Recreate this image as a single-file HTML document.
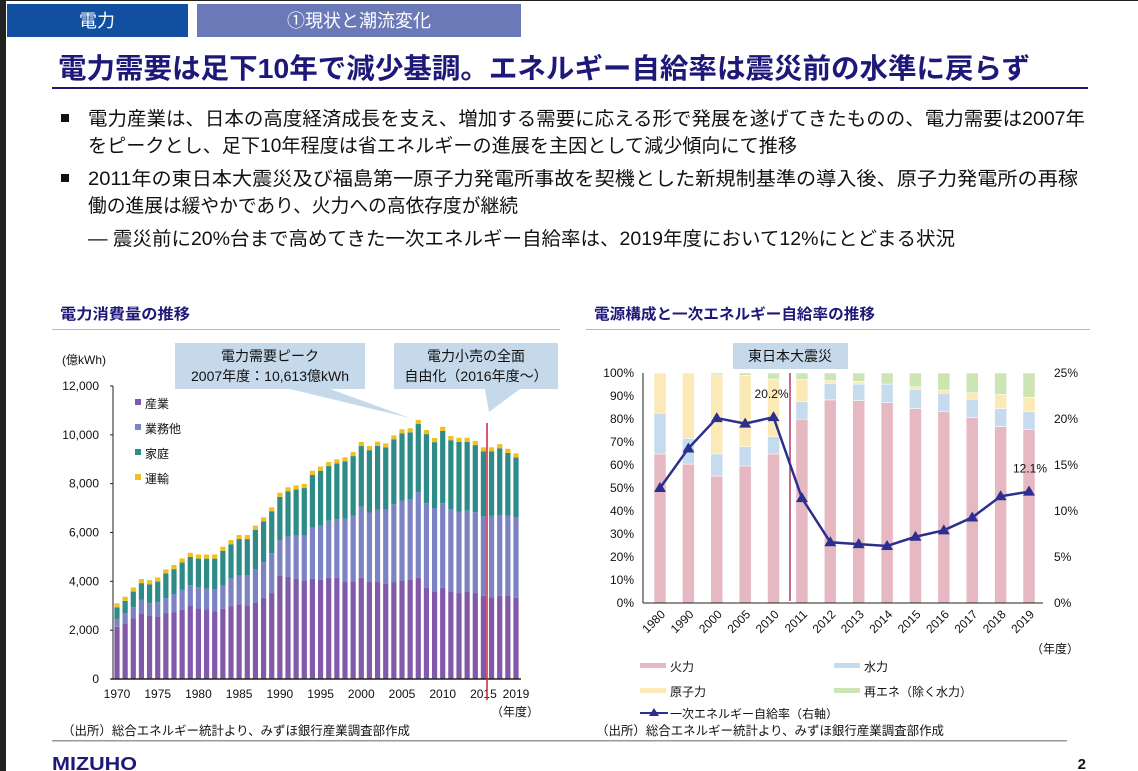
<!DOCTYPE html>
<html><head><meta charset="utf-8">
<style>
html,body{margin:0;padding:0;background:#fff;}
svg{display:block;font-family:"Liberation Sans","Noto Sans CJK JP",sans-serif;}
</style></head>
<body>
<svg id="s" width="1138" height="771" viewBox="0 0 1138 771" xmlns="http://www.w3.org/2000/svg">
<rect x="0" y="0" width="1138" height="771" fill="#fff"/>
<rect x="0" y="0" width="6" height="771" fill="#222"/>
<rect x="0" y="0" width="1138" height="1" fill="#222"/>
<g>
<rect x="7" y="4" width="181" height="33" fill="#1150a0"/>
<text x="97" y="27" text-anchor="middle" fill="#fff" font-size="18">電力</text>
<rect x="197" y="4" width="324" height="33" fill="#6b79b8"/>
<text x="359" y="27" text-anchor="middle" fill="#fff" font-size="18">①現状と潮流変化</text>
</g>
<text x="58" y="78" fill="#1e1878" font-size="28" font-weight="bold" textLength="972" lengthAdjust="spacingAndGlyphs">電力需要は足下10年で減少基調。エネルギー自給率は震災前の水準に戻らず</text>
<rect x="52" y="87" width="1036" height="2" fill="#1e1878"/>
<g font-size="19" fill="#111">
<rect x="61" y="114" width="8" height="8" fill="#111"/>
<text x="88" y="125" textLength="997" lengthAdjust="spacingAndGlyphs">電力産業は、日本の高度経済成長を支え、増加する需要に応える形で発展を遂げてきたものの、電力需要は2007年</text>
<text x="88" y="152" textLength="709" lengthAdjust="spacingAndGlyphs">をピークとし、足下10年程度は省エネルギーの進展を主因として減少傾向にて推移</text>
<rect x="61" y="174" width="8" height="8" fill="#111"/>
<text x="88" y="185" textLength="990" lengthAdjust="spacingAndGlyphs">2011年の東日本大震災及び福島第一原子力発電所事故を契機とした新規制基準の導入後、原子力発電所の再稼</text>
<text x="88" y="212" textLength="430" lengthAdjust="spacingAndGlyphs">働の進展は緩やかであり、火力への高依存度が継続</text>
<text x="88" y="245" textLength="867" lengthAdjust="spacingAndGlyphs">―  震災前に20%台まで高めてきた一次エネルギー自給率は、2019年度において12%にとどまる状況</text>
</g>
<text x="60" y="319" fill="#1e1878" font-size="15" font-weight="bold" textLength="130" lengthAdjust="spacingAndGlyphs">電力消費量の推移</text>
<rect x="52" y="329" width="508" height="1" fill="#bbb"/>
<text x="594" y="319" fill="#1e1878" font-size="15" font-weight="bold" textLength="281" lengthAdjust="spacingAndGlyphs">電源構成と一次エネルギー自給率の推移</text>
<rect x="586" y="329" width="504" height="1" fill="#bbb"/>
<g id="left"></g>
<g id="right"></g>
<text x="62" y="735" font-size="12.5" fill="#111" textLength="348" lengthAdjust="spacingAndGlyphs">（出所）総合エネルギー統計より、みずほ銀行産業調査部作成</text>
<text x="596" y="735" font-size="12.5" fill="#111" textLength="348" lengthAdjust="spacingAndGlyphs">（出所）総合エネルギー統計より、みずほ銀行産業調査部作成</text>
<rect x="52" y="740" width="1015" height="1.5" fill="#999"/>
<text x="52" y="770" font-size="18" font-weight="bold" fill="#1e1878" textLength="85" lengthAdjust="spacingAndGlyphs">MIZUHO</text>
<text x="1086" y="769" font-size="15" font-weight="bold" fill="#111" text-anchor="end">2</text>
</svg>
<script>
const years=[];for(let y=1970;y<=2019;y++)years.push(y);
const industry=[2140,2280,2480,2690,2580,2540,2700,2740,2840,2990,2900,2850,2780,2880,2970,3060,3020,3130,3330,3520,4220,4180,4110,4030,4110,4070,4150,4140,3970,4000,4140,3970,3970,3890,3970,4030,4070,4140,3730,3590,3730,3590,3520,3590,3520,3410,3340,3410,3400,3330];
const commercial=[320,410,460,550,520,600,610,740,810,850,860,860,890,970,1150,1170,1240,1360,1450,1630,1470,1650,1760,1840,2090,2210,2330,2400,2590,2690,2920,2850,2960,3040,3190,3280,3300,3510,3470,3410,3470,3370,3340,3300,3310,3250,3340,3290,3280,3290];
const residential=[470,510,640,685,780,850,1010,1020,1120,1160,1170,1220,1260,1400,1400,1500,1470,1620,1670,1710,1770,1850,1890,1950,2160,2250,2240,2290,2350,2440,2480,2550,2620,2550,2650,2750,2730,2793,2830,2700,2960,2820,2850,2820,2750,2660,2640,2750,2580,2450];
const transport=[170,170,170,170,170,170,170,170,170,170,170,170,170,170,170,170,170,170,170,170,170,170,170,170,170,170,170,170,170,170,170,170,170,170,170,170,170,170,170,170,170,170,170,170,170,170,170,170,170,170];
const leftTicks=[0,2000,4000,6000,8000,10000,12000];
const leftXLabels=[1970,1975,1980,1985,1990,1995,2000,2005,2010,2015,2019];

const mixCats=["1980","1990","2000","2005","2010","2011","2012","2013","2014","2015","2016","2017","2018","2019"];
const thermal=[64.8,60.4,55.2,59.6,64.8,79.9,88.3,88.0,87.1,84.5,83.2,80.6,76.7,75.5];
const hydro=[17.7,11.2,9.6,8.4,7.5,7.6,7.2,7.2,8.1,8.4,8.0,8.0,7.8,7.7];
const nuclear=[17.5,28.4,34.4,31.0,25.1,9.8,1.2,1.2,0,1.1,1.4,2.8,6.2,6.2];
const renewables=[0,0,0.8,1.0,2.6,2.7,3.3,3.6,4.8,6.0,7.4,8.6,9.3,10.6];
const selfSufficiency=[12.5,16.8,20.1,19.5,20.2,11.4,6.6,6.4,6.2,7.2,7.9,9.3,11.6,12.1];
const pctTicks=[0,10,20,30,40,50,60,70,80,90,100];
const rightTicks=[0,5,10,15,20,25];

const NS="http://www.w3.org/2000/svg";
function mk(p,tag,a,txt){const e=document.createElementNS(NS,tag);for(const k in a)e.setAttribute(k,a[k]);if(txt!==undefined)e.textContent=txt;p.appendChild(e);return e;}

// LEFT CHART
const L=document.getElementById('left');
const ly=v=>679-v/12000*293;
const lx=i=>117+i*(516-117)/49;
mk(L,'text',{x:62,y:364,'font-size':12,fill:'#111'},'(億kWh)');
for(const t of leftTicks){
  const e=mk(L,'text',{x:99,y:ly(t)+4,'font-size':12,'text-anchor':'end',fill:'#111'},t.toLocaleString('en-US'));
  
  
}
const lcols=['#8159a8','#7b83c2','#2e8b88','#f0c020'];
const lser=[industry,commercial,residential,transport];
years.forEach((yr,i)=>{
  let base=0;
  lser.forEach((s,k)=>{
    const r=mk(L,'rect',{x:lx(i)-2.6,y:ly(base+s[i]),width:5.2,height:ly(base)-ly(base+s[i]),fill:lcols[k]});
    
    
    base+=s[i];
  });
});
mk(L,'line',{x1:113,y1:386,x2:113,y2:679,stroke:'#222','stroke-width':1});
mk(L,'line',{x1:111,y1:679,x2:521,y2:679,stroke:'#222','stroke-width':1.5});
for(const t of leftTicks)mk(L,'line',{x1:110,y1:ly(t),x2:113,y2:ly(t),stroke:'#222'});
for(const yr of leftXLabels){
  const e=mk(L,'text',{x:lx(yr-1970),y:698,'font-size':12,'text-anchor':'middle',fill:'#111'},String(yr));
  
  
}
mk(L,'text',{x:515,y:716,'font-size':12,'text-anchor':'middle',fill:'#111'},'（年度）');
mk(L,'line',{x1:487,y1:423,x2:487,y2:700,stroke:'#d0203a','stroke-width':1.5});
const legL=['産業','業務他','家庭','運輸'];
legL.forEach((n,k)=>{
  mk(L,'rect',{x:135,y:399+k*25,width:6,height:6,fill:lcols[k]});
  const e=mk(L,'text',{x:145,y:408+k*25,'font-size':12,fill:'#111'},n);
  
  
});
// callouts
mk(L,'path',{d:'M175,343 H365 V389 H330 L410,418 L290,389 H175 Z',fill:'#c5d9ea'});
mk(L,'text',{x:270,y:361,'font-size':14,'text-anchor':'middle',fill:'#111'},'電力需要ピーク');
mk(L,'text',{x:270,y:381,'font-size':14,'text-anchor':'middle',fill:'#111'},'2007年度：10,613億kWh');
mk(L,'path',{d:'M394,343 H558 V389 H520 L489,412 L485,389 H394 Z',fill:'#c5d9ea'});
mk(L,'text',{x:476,y:361,'font-size':14,'text-anchor':'middle',fill:'#111'},'電力小売の全面');
mk(L,'text',{x:476,y:381,'font-size':14,'text-anchor':'middle',fill:'#111'},'自由化（2016年度～）');

// RIGHT CHART
const R=document.getElementById('right');
const py=v=>603-v/100*230;
const ry=v=>603-v/25*230;
const px=i=>660+i*(1029-660)/13;
for(const t of pctTicks){
  const e=mk(R,'text',{x:634,y:py(t)+4,'font-size':12,'text-anchor':'end',fill:'#111'},t+'%');
  
  
}
for(const t of rightTicks){
  const e=mk(R,'text',{x:1054,y:ry(t)+4,'font-size':12,fill:'#111'},t+'%');
  
  
}
const rcols=['#e6b8c2','#c6dcee','#fbeab5','#cde4b4'];
const rser=[thermal,hydro,nuclear,renewables];
const rnames=['thermal','hydro','nuclear','renewables'];
mixCats.forEach((c,i)=>{
  let base=0;
  rser.forEach((s,k)=>{
    if(s[i]<=0)return;
    const r=mk(R,'rect',{x:px(i)-6,y:py(base+s[i]),width:12,height:py(base)-py(base+s[i]),fill:rcols[k],stroke:'#fff','stroke-width':0.5});
    
    
    base+=s[i];
  });
  const t=mk(R,'text',{x:0,y:0,'font-size':12,'text-anchor':'end',fill:'#111',transform:`translate(${px(i)+6},${615}) rotate(-45)`},c);
  
  
});
mk(R,'line',{x1:643,y1:373,x2:643,y2:603,stroke:'#222'});
mk(R,'line',{x1:643,y1:603,x2:1043,y2:603,stroke:'#222'});
mk(R,'line',{x1:790,y1:373,x2:790,y2:601,stroke:'#a0204a','stroke-width':1.3});
mk(R,'rect',{x:733,y:343,width:115,height:26,fill:'#c5d9ea'});
mk(R,'text',{x:790,y:361,'font-size':14,'text-anchor':'middle',fill:'#111'},'東日本大震災');
const pts=selfSufficiency.map((v,i)=>px(i)+','+ry(v)).join(' ');
const pl=mk(R,'polyline',{points:pts,fill:'none',stroke:'#2b2f8f','stroke-width':2.5});


selfSufficiency.forEach((v,i)=>{
  const x=px(i),y=ry(v);
  const m=mk(R,'path',{d:`M${x},${y-6} L${x+6},${y+4} L${x-6},${y+4} Z`,fill:'#2b2f8f'});
  
  
});
mk(R,'text',{x:px(4)-2,y:ry(selfSufficiency[4])-19,'font-size':12,'text-anchor':'middle',fill:'#111'},selfSufficiency[4]+'%');
mk(R,'text',{x:px(13)+1,y:ry(selfSufficiency[13])-19,'font-size':12,'text-anchor':'middle',fill:'#111'},selfSufficiency[13]+'%');
mk(R,'text',{x:1055,y:653,'font-size':12,'text-anchor':'middle',fill:'#111'},'（年度）');
const legR=[['火力',640,666],['水力',834,666],['原子力',640,691],['再エネ（除く水力）',834,691]];
legR.forEach((l,k)=>{
  mk(R,'rect',{x:l[1],y:l[2]-3,width:26,height:5,fill:rcols[k]});
  const e=mk(R,'text',{x:l[1]+30,y:l[2]+5,'font-size':12,fill:'#111'},l[0]);
  
  
});
mk(R,'line',{x1:640,y1:713,x2:668,y2:713,stroke:'#2b2f8f','stroke-width':2});
mk(R,'path',{d:'M654,708 L659,716 L649,716 Z',fill:'#2b2f8f'});
mk(R,'text',{x:670,y:718,'font-size':12,fill:'#111'},'一次エネルギー自給率（右軸）');
</script>
</body></html>
